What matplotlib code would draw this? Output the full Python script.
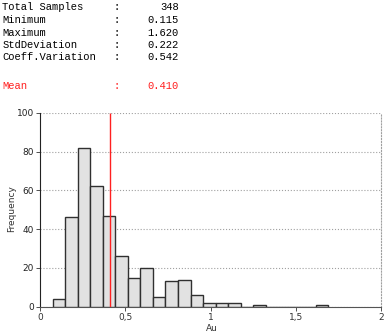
import numpy as np
import matplotlib.pyplot as plt

# histogram of Au values (bin edges and counts)
bin_start = 0.0744
bin_width = 0.0735
counts = [4, 46, 82, 62, 47, 26, 15, 20, 5, 13, 14, 6, 2, 2, 2, 0, 1, 0, 0, 0, 0, 1]
mean_au = 0.410

stat_names = ["Total Samples", "Minimum", "Maximum", "StdDeviation", "Coeff.Variation"]
stat_values = ["348", "0.115", "1.620", "0.222", "0.542"]

W, H = 384, 333
fig = plt.figure(figsize=(W / 100, H / 100), dpi=100)

mono = "Liberation Mono"
row_y = [7.5, 20, 32.5, 44.5, 57]
for name, val, y in zip(stat_names, stat_values, row_y):
    fig.text(2.5 / W, 1 - y / H, name, family=mono, fontsize=7.6, va="center", ha="left")
    fig.text(117 / W, 1 - y / H, ":", family=mono, fontsize=7.6, va="center", ha="center")
    fig.text(179 / W, 1 - y / H, val, family=mono, fontsize=7.6, va="center", ha="right")
fig.text(2.5 / W, 1 - 86 / H, "Mean", family=mono, fontsize=7.6, va="center", ha="left", color="#ff2020")
fig.text(117 / W, 1 - 86 / H, ":", family=mono, fontsize=7.6, va="center", ha="center", color="#ff2020")
fig.text(179 / W, 1 - 86 / H, "%.3f" % mean_au, family=mono, fontsize=7.6, va="center", ha="right", color="#ff2020")

ax = fig.add_axes([40 / W, (H - 306.7) / H, 341 / W, 194 / H])
edges = bin_start + bin_width * np.arange(len(counts) + 1)
ax.bar(edges[:-1], counts, width=bin_width, align="edge",
       color="#e2e2e2", edgecolor="#303030", linewidth=1.0, zorder=3)
ax.vlines(mean_au, 0, 100, color="#ff2020", linewidth=1, zorder=4)

ax.set_xlim(0, 2)
ax.set_ylim(0, 100)
ax.set_xticks([0, 0.5, 1, 1.5, 2])
ax.set_xticklabels(["0", "0,5", "1", "1,5", "2"])
ax.set_yticks([0, 20, 40, 60, 80, 100])
ax.yaxis.grid(True, linestyle=":", color="#a0a0a0", linewidth=0.8, zorder=0)
ax.tick_params(labelsize=6.5, length=3, width=0.6, colors="#333333", pad=1.5)
ax.tick_params(axis="y", labelcolor="#222222")

ax.spines["top"].set_visible(False)
ax.spines["right"].set_linestyle(":")
ax.spines["right"].set_color("#a0a0a0")
ax.spines["left"].set_color("#222222")
ax.spines["bottom"].set_color("#555555")

ax.set_ylabel("Frequency", fontsize=6.5, color="#333333")
ax.set_xlabel("Au", fontsize=6.5, color="#333333")
ax.yaxis.set_label_coords(-0.082, 0.504)
ax.xaxis.set_label_coords(0.504, -0.11)
ax.yaxis.label.set_va("center")
ax.xaxis.label.set_va("center")

fig.savefig("out.png", dpi=100)
